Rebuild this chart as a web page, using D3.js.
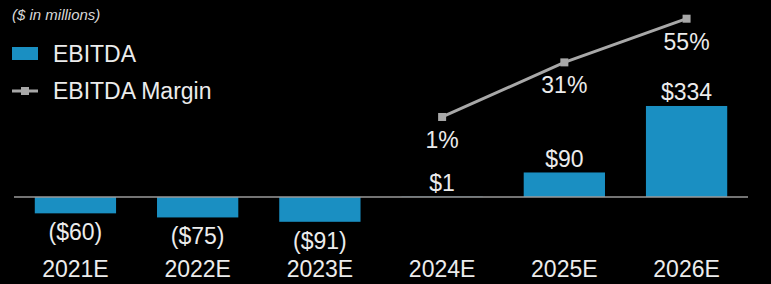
<!DOCTYPE html>
<html>
<head>
<meta charset="utf-8">
<script src="https://cdn.jsdelivr.net/npm/d3@7"></script>
<style>
  html, body { margin: 0; padding: 0; background: #000; }
  svg { display: block; font-family: "Liberation Sans", Arial, sans-serif; }
</style>
</head>
<body>
<div id="chart"></div>
<script>
const years = ['2021E', '2022E', '2023E', '2024E', '2025E', '2026E'];
const ebitda = [-60, -75, -91, 1, 90, 334];
const ebitdaLabels = ['($60)', '($75)', '($91)', '$1', '$90', '$334'];
const marginYears = ['2024E', '2025E', '2026E'];
const margin = [1, 31, 55];

const width = 771, height = 284;
const barColor = '#1a8fc2';
const lineColor = '#a8a8a8';
const textColor = '#ececec';
const fontSize = '23px';

const svg = d3.select('#chart').append('svg')
  .attr('width', width)
  .attr('height', height);

const x = d3.scaleBand()
  .domain(years)
  .range([14, 748])
  .paddingInner(0.335)
  .paddingOuter(0.17);

// bar scale: zero at ~197
const y = d3.scaleLinear()
  .domain([-100, 334])
  .range([197 + 100 * 0.2725, 197 - 334 * 0.2725]);

// margin scale
const ym = d3.scaleLinear()
  .domain([0, 55])
  .range([118.8, 18.7]);

// bars
svg.selectAll('rect.bar')
  .data(ebitda)
  .enter()
  .append('rect')
  .attr('class', 'bar')
  .attr('x', (d, i) => x(years[i]))
  .attr('width', x.bandwidth())
  .attr('y', d => Math.min(y(d), y(0)))
  .attr('height', d => Math.abs(y(d) - y(0)))
  .attr('fill', barColor);

// baseline
svg.append('line')
  .attr('x1', 14).attr('x2', 748)
  .attr('y1', y(0)).attr('y2', y(0))
  .attr('stroke', '#9a9a9a')
  .attr('stroke-width', 1.5);

// bar value labels
svg.selectAll('text.val')
  .data(ebitda)
  .enter()
  .append('text')
  .attr('class', 'val')
  .attr('x', (d, i) => x(years[i]) + x.bandwidth() / 2)
  .attr('y', d => d < 0 ? y(d) + 19 : y(d) - 14)
  .attr('dy', '0.35em')
  .attr('text-anchor', 'middle')
  .attr('fill', textColor)
  .attr('font-size', fontSize)
  .text((d, i) => ebitdaLabels[i]);

// category labels
svg.selectAll('text.cat')
  .data(years)
  .enter()
  .append('text')
  .attr('class', 'cat')
  .attr('x', d => x(d) + x.bandwidth() / 2)
  .attr('y', 268.5)
  .attr('dy', '0.35em')
  .attr('text-anchor', 'middle')
  .attr('fill', textColor)
  .attr('font-size', fontSize)
  .text(d => d);

// margin line
const line = d3.line()
  .x((d, i) => x(marginYears[i]) + x.bandwidth() / 2)
  .y(d => ym(d));

svg.append('path')
  .datum(margin)
  .attr('fill', 'none')
  .attr('stroke', lineColor)
  .attr('stroke-width', 3)
  .attr('d', line);

svg.selectAll('rect.pt')
  .data(margin)
  .enter()
  .append('rect')
  .attr('class', 'pt')
  .attr('x', (d, i) => x(marginYears[i]) + x.bandwidth() / 2 - 4)
  .attr('y', d => ym(d) - 4)
  .attr('width', 8)
  .attr('height', 8)
  .attr('fill', lineColor);

svg.selectAll('text.pct')
  .data(margin)
  .enter()
  .append('text')
  .attr('class', 'pct')
  .attr('x', (d, i) => x(marginYears[i]) + x.bandwidth() / 2)
  .attr('y', d => ym(d) + 23)
  .attr('dy', '0.35em')
  .attr('text-anchor', 'middle')
  .attr('fill', textColor)
  .attr('font-size', fontSize)
  .text(d => d + '%');

// units note
svg.append('text')
  .attr('x', 12)
  .attr('y', 15)
  .attr('dy', '0.35em')
  .attr('fill', '#d8d8d8')
  .attr('font-size', '15px')
  .attr('font-style', 'italic')
  .text('($ in millions)');

// legend
const legend = svg.append('g');
legend.append('rect')
  .attr('x', 12).attr('y', 47)
  .attr('width', 26).attr('height', 13)
  .attr('fill', barColor);
legend.append('text')
  .attr('x', 53).attr('y', 54)
  .attr('dy', '0.35em')
  .attr('fill', textColor)
  .attr('font-size', fontSize)
  .text('EBITDA');

legend.append('line')
  .attr('x1', 12).attr('x2', 38)
  .attr('y1', 91).attr('y2', 91)
  .attr('stroke', lineColor)
  .attr('stroke-width', 3);
legend.append('rect')
  .attr('x', 21).attr('y', 87)
  .attr('width', 8).attr('height', 8)
  .attr('fill', lineColor);
legend.append('text')
  .attr('x', 53).attr('y', 91)
  .attr('dy', '0.35em')
  .attr('fill', textColor)
  .attr('font-size', fontSize)
  .text('EBITDA Margin');
</script>
</body>
</html>
